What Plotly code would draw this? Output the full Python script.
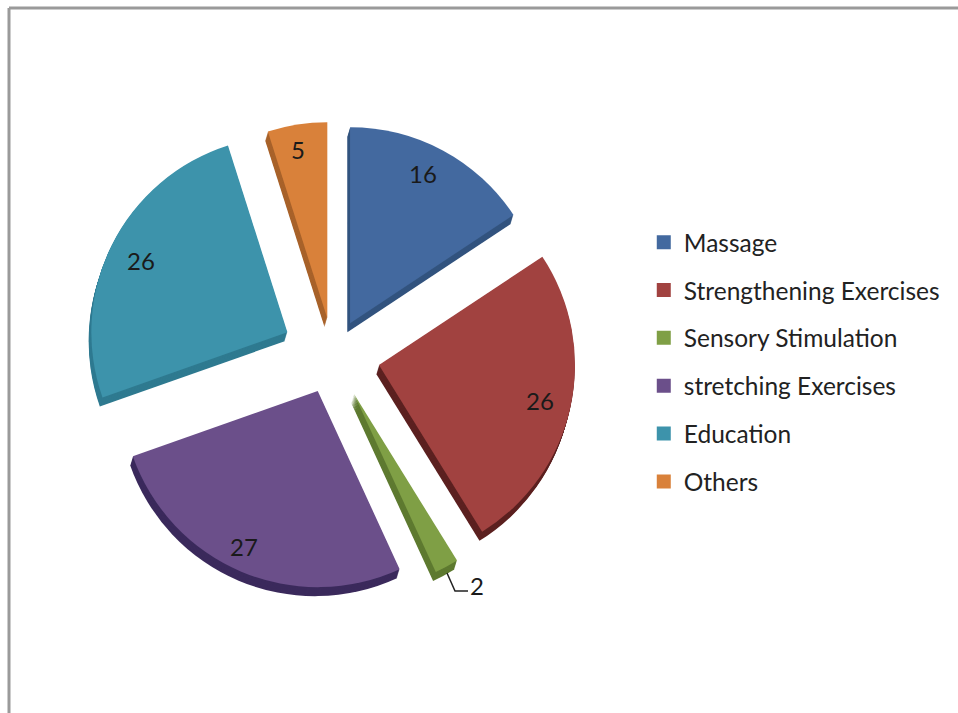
import plotly.graph_objects as go

categories = ["Massage", "Strengthening Exercises", "Sensory Stimulation",
              "stretching Exercises", "Education", "Others"]
values = [16, 26, 2, 27, 26, 5]
face_colors = ["#43699f", "#a14240", "#7f9f45", "#6b4f8a", "#3d93ab", "#d9813a"]
side_colors = ["#33547f", "#5c2120", "#5e7a30", "#3b2a5c", "#2f7a90", "#a8622a"]
slice_pull = [0.184, 0.24, 0.225, 0.20, 0.26, 0.19]

W, H = 958, 713
CX, CY, SPAN = 333, 355, 494
FONT = "Lato, Open Sans, sans-serif"

# Pixel anchors of the value labels, one per slice.
label_x = [423, 540, 477, 244, 141, 298]
label_y = [174, 400, 585, 546, 260, 150]


def pie_domain(dx, dy):
    """Square pie domain in paper fractions, shifted by a pixel offset."""
    return dict(
        x=[(CX + dx - SPAN / 2) / W, (CX + dx + SPAN / 2) / W],
        y=[1 - (CY + dy + SPAN / 2) / H, 1 - (CY + dy - SPAN / 2) / H],
    )


fig = go.Figure()

# Stacked dark pies form the rim of the extruded slices.
for offset in range(9, 0, -1):
    fig.add_trace(go.Pie(
        labels=categories, values=values, sort=False, direction="clockwise",
        rotation=0, pull=slice_pull, domain=pie_domain(-offset * 0.3, offset),
        marker=dict(colors=side_colors, line=dict(width=0)),
        textinfo="none", hoverinfo="skip", showlegend=False,
    ))

fig.add_trace(go.Pie(
    labels=categories, values=values, sort=False, direction="clockwise",
    rotation=0, pull=slice_pull, domain=pie_domain(0, 0),
    marker=dict(colors=face_colors, line=dict(width=0)),
    textinfo="none", showlegend=False, automargin=False,
))

# One legend group per category keeps the wide row spacing.
for name, color in zip(categories, face_colors):
    fig.add_trace(go.Scatter(
        x=[None], y=[None], mode="markers", name=name, legendgroup=name,
        marker=dict(symbol="square", size=14, color=color),
    ))

value_labels = [
    dict(text=str(v), x=px / W, y=1 - py / H, xref="paper", yref="paper",
         xanchor="center", yanchor="middle", showarrow=False,
         font=dict(family=FONT, size=24, color="#1a1a1a"))
    for v, px, py in zip(values, label_x, label_y)
]

frame = dict(color="#9a9a9a", width=3)
fig.update_layout(
    width=W, height=H, autosize=False,
    margin=dict(l=0, r=0, t=0, b=0),
    paper_bgcolor="white", plot_bgcolor="white",
    xaxis=dict(visible=False), yaxis=dict(visible=False),
    legend=dict(
        x=0.672, y=0.492, xanchor="left", yanchor="middle",
        font=dict(family=FONT, size=24.5, color="#222222"),
        tracegroupgap=13, itemclick=False, itemdoubleclick=False,
        bgcolor="rgba(0,0,0,0)",
    ),
    annotations=value_labels,
    shapes=[
        dict(type="line", xref="paper", yref="paper", x0=9 / W, x1=1,
             y0=1 - 8 / H, y1=1 - 8 / H, line=frame),
        dict(type="line", xref="paper", yref="paper", x0=9 / W, x1=9 / W,
             y0=0, y1=1 - 8 / H, line=frame),
        # Leader line from the thin slice to its label.
        dict(type="path", xref="paper", yref="paper",
             path=f"M {447 / W} {1 - 573 / H} L {455 / W} {1 - 591 / H} L {468 / W} {1 - 591 / H}",
             line=dict(color="#222222", width=1.5)),
    ],
)

fig.write_html("out.html")
